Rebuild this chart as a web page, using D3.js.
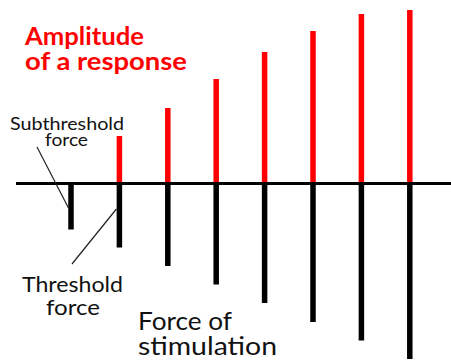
<!DOCTYPE html>
<html>
<head>
<meta charset="utf-8">
<script src="https://cdn.jsdelivr.net/npm/d3@7"></script>
<style>
  html, body { margin: 0; padding: 0; background: #fff; }
  svg { display: block; }
  text { font-family: Lato, "Noto Sans", sans-serif; }
</style>
</head>
<body>
<svg id="chart" width="451" height="360"></svg>
<script>
// Stimulus number (1 = subthreshold, 2 = threshold, ...)
const stimuli = [1, 2, 3, 4, 5, 6, 7, 8];
// Strength of each stimulus (drawn downward from the baseline)
const force = [46, 64, 82.5, 101, 119.5, 138.5, 157, 175.5];
// Amplitude of the response (drawn upward); subthreshold gives none
const response = [0, 47.5, 75.5, 104.5, 131.5, 152.5, 169.5, 173.5];

const svg = d3.select("#chart");

const x = d3.scalePoint().domain(stimuli).range([71, 409.8]);
// Response axis grows upward, force axis grows downward from the same baseline
const yUp = d3.scaleLinear().domain([0, 180]).range([183.5, 3.5]);
const yDown = d3.scaleLinear().domain([0, 180]).range([183.5, 363.5]);

const barW = 5.5;

// Response bars (red, upward)
svg.append("g")
  .selectAll("rect")
  .data(stimuli.filter((d, i) => response[i] > 0))
  .join("rect")
  .attr("x", d => x(d) - barW / 2)
  .attr("y", d => yUp(response[stimuli.indexOf(d)]))
  .attr("width", barW)
  .attr("height", d => yUp(0) - yUp(response[stimuli.indexOf(d)]))
  .attr("fill", "#ff0000");

// Force bars (black, downward)
svg.append("g")
  .selectAll("rect")
  .data(stimuli)
  .join("rect")
  .attr("x", d => x(d) - barW / 2)
  .attr("y", yDown(0))
  .attr("width", barW)
  .attr("height", (d, i) => yDown(force[i]) - yDown(0))
  .attr("fill", "#000");

// Baseline
svg.append("line")
  .attr("x1", 16).attr("x2", 451)
  .attr("y1", yUp(0)).attr("y2", yUp(0))
  .attr("stroke", "#000").attr("stroke-width", 3);

// Leader lines for the annotated stimuli
svg.append("line")
  .attr("x1", 37).attr("y1", 147)
  .attr("x2", x(1) - 2.5).attr("y2", 208)
  .attr("stroke", "#222").attr("stroke-width", 1.2);
svg.append("line")
  .attr("x1", 72).attr("y1", 264)
  .attr("x2", x(2) - 3).attr("y2", 209)
  .attr("stroke", "#222").attr("stroke-width", 1.2);

// Multi-line label: one text element, one tspan per line
function label(lines, size, anchor, color, weight) {
  const t = svg.append("text")
    .attr("font-size", size)
    .attr("font-weight", weight || "normal")
    .attr("fill", color || "#111")
    .attr("text-anchor", anchor);
  lines.forEach(l => {
    t.append("tspan")
      .attr("x", l.x).attr("y", l.y)
      .attr("textLength", l.len)
      .attr("lengthAdjust", "spacingAndGlyphs")
      .text(l.text);
  });
}

// Title
label([
  { text: "Amplitude", x: 25, y: 45, len: 119 },
  { text: "of a response", x: 25, y: 70, len: 162 }
], 25, "start", "#ff0000", "bold");

// Annotations
label([
  { text: "Subthreshold", x: 67, y: 130, len: 114 },
  { text: "force", x: 66.5, y: 146, len: 43 }
], 18, "middle");
label([
  { text: "Threshold", x: 72.5, y: 292, len: 101 },
  { text: "force", x: 73, y: 315, len: 54 }
], 20.5, "middle");
label([
  { text: "Force of", x: 138, y: 330, len: 94 },
  { text: "stimulation", x: 138, y: 355, len: 139 }
], 25, "start");
</script>
</body>
</html>
